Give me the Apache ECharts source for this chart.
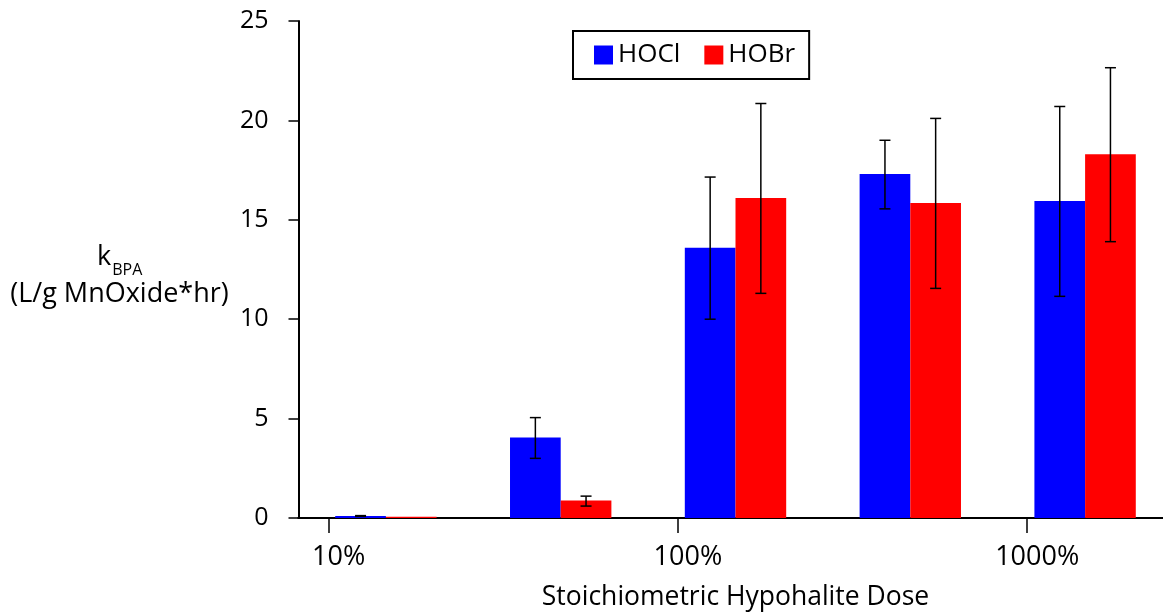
<!DOCTYPE html>
<html>
<head>
<meta charset="utf-8">
<title>BPA rate constants vs hypohalite dose</title>
<script src="https://cdn.jsdelivr.net/npm/echarts@6/dist/echarts.min.js"></script>
<style>
  html, body { margin: 0; padding: 0; background: #ffffff; }
  #chart { width: 1163px; height: 615px; }
</style>
</head>
<body>
<div id="chart"></div>
<script>
// Dose groups (bar categories) and the tick marks of the log dose axis
const doseLevels = ['10%', '30%', '100%', '300%', '1000%'];
const doseTickValues = [10, 100, 1000];
const doseTickLabels = ['10%', '100%', '1000%'];

// k_BPA (L/g MnOxide*hr) for each oxidant, with error-bar bounds
const hoclValues = [0.1, 4.05, 13.6, 17.3, 15.95];
const hoclLow    = [0.08, 3.0, 10.0, 15.55, 11.15];
const hoclHigh   = [0.12, 5.05, 17.15, 19.0, 20.7];

const hobrValues = [0.06, 0.88, 16.1, 15.85, 18.3];
const hobrLow    = [0.06, 0.6, 11.3, 11.55, 13.9];
const hobrHigh   = [0.06, 1.1, 20.85, 20.1, 22.65];

const FONT = '"Open Sans", "Liberation Sans", sans-serif';
const CATEGORY_GAP = 0.42;   // fraction of each band left empty between groups

const chart = echarts.init(document.getElementById('chart'), null, { renderer: 'canvas' });

function errorSeries(name, low, high, side) {
  return {
    name: name,
    type: 'custom',
    xAxisIndex: 0,
    yAxisIndex: 0,
    z: 5,
    data: low.map((v, i) => [i, v, high[i]]),
    renderItem: function (params, api) {
      if (api.value(1) === api.value(2)) {
        return null;   // no spread, nothing to draw
      }
      const i = api.value(0);
      const band = api.size([1, 0])[0];
      const dx = side * band * (1 - CATEGORY_GAP) / 4;
      const lo = api.coord([i, api.value(1)]);
      const hi = api.coord([i, api.value(2)]);
      const x = lo[0] + dx;
      const cap = 5.5;
      const style = { stroke: '#000000', lineWidth: 1.5, fill: null };
      return {
        type: 'group',
        children: [
          { type: 'line', shape: { x1: x, y1: lo[1], x2: x, y2: hi[1] }, style: style },
          { type: 'line', shape: { x1: x - cap, y1: lo[1], x2: x + cap, y2: lo[1] }, style: style },
          { type: 'line', shape: { x1: x - cap, y1: hi[1], x2: x + cap, y2: hi[1] }, style: style }
        ]
      };
    }
  };
}

const option = {
  animation: false,
  backgroundColor: '#ffffff',
  textStyle: { fontFamily: FONT, color: '#000000' },
  grid: {
    left: 298.5, width: 874, top: 21, height: 497,
    containLabel: false,
    outerBoundsMode: 'none'
  },
  legend: {
    data: ['HOCl', 'HOBr'],
    left: 573,
    top: 31,
    orient: 'horizontal',
    icon: 'rect',
    itemWidth: 19,
    itemHeight: 19,
    itemGap: 24,
    padding: [11, 14, 11, 21],
    borderColor: '#000000',
    borderWidth: 2,
    backgroundColor: '#ffffff',
    textStyle: { fontFamily: FONT, fontSize: 26, color: '#000000' }
  },
  xAxis: [
    {
      // category axis carrying the bars; its line forms the top border
      type: 'category',
      data: doseLevels,
      position: 'top',
      axisLine: { show: true, lineStyle: { color: '#000000', width: 2 } },
      axisTick: { show: false },
      axisLabel: { show: false },
      splitLine: { show: false }
    },
    {
      // logarithmic dose scale (log10 units) with its tick labels
      type: 'value',
      position: 'bottom',
      min: 0.9138,
      max: 3.416,
      axisLine: { show: true, onZero: false, lineStyle: { color: '#000000', width: 2 } },
      axisTick: {
        show: true,
        inside: false,
        length: 15,
        customValues: doseTickValues.map(v => Math.log10(v)),
        lineStyle: { color: '#000000', width: 1.5 }
      },
      axisLabel: {
        show: true,
        customValues: doseTickValues.map(v => Math.log10(v)),
        formatter: function (v) {
          const idx = doseTickValues.indexOf(Math.round(Math.pow(10, v)));
          return idx >= 0 ? doseTickLabels[idx] : '';
        },
        margin: 26,
        padding: [0, 0, 0, 20],
        fontFamily: FONT,
        fontSize: 27,
        color: '#000000'
      },
      splitLine: { show: false },
      name: 'Stoichiometric Hypohalite Dose',
      nameLocation: 'middle',
      nameGap: 66,
      nameTextStyle: { fontFamily: FONT, fontSize: 26.5, color: '#000000' }
    }
  ],
  yAxis: {
    type: 'value',
    min: 0,
    max: 25,
    interval: 5,
    axisLine: { show: true, lineStyle: { color: '#000000', width: 2 } },
    axisTick: { show: true, inside: false, length: 10, lineStyle: { color: '#000000', width: 1.5 } },
    axisLabel: { margin: 30, fontFamily: FONT, fontSize: 25, color: '#000000' },
    splitLine: { show: false }
  },
  graphic: [
    {
      type: 'text',
      left: 97,
      top: 244,
      style: {
        text: '{k|k}{sub|BPA}',
        rich: {
          k: { fontFamily: FONT, fontSize: 27, color: '#000000', verticalAlign: 'bottom' },
          sub: { fontFamily: FONT, fontSize: 16, color: '#000000', verticalAlign: 'bottom', padding: [0, 0, -7, 1] }
        }
      }
    },
    {
      type: 'text',
      x: 119.5,
      y: 294,
      style: {
        text: '(L/g MnOxide*hr)',
        fontFamily: FONT,
        fontSize: 27,
        fill: '#000000',
        align: 'center',
        verticalAlign: 'middle'
      }
    }
  ],
  series: [
    {
      name: 'HOCl',
      type: 'bar',
      xAxisIndex: 0,
      yAxisIndex: 0,
      data: hoclValues,
      barGap: '0%',
      barCategoryGap: (CATEGORY_GAP * 100) + '%',
      itemStyle: { color: '#0000ff' }
    },
    {
      name: 'HOBr',
      type: 'bar',
      xAxisIndex: 0,
      yAxisIndex: 0,
      data: hobrValues,
      barGap: '0%',
      barCategoryGap: (CATEGORY_GAP * 100) + '%',
      itemStyle: { color: '#ff0000' }
    },
    errorSeries('HOCl error', hoclLow, hoclHigh, -1),
    errorSeries('HOBr error', hobrLow, hobrHigh, 1)
  ]
};

chart.setOption(option);
</script>
</body>
</html>
